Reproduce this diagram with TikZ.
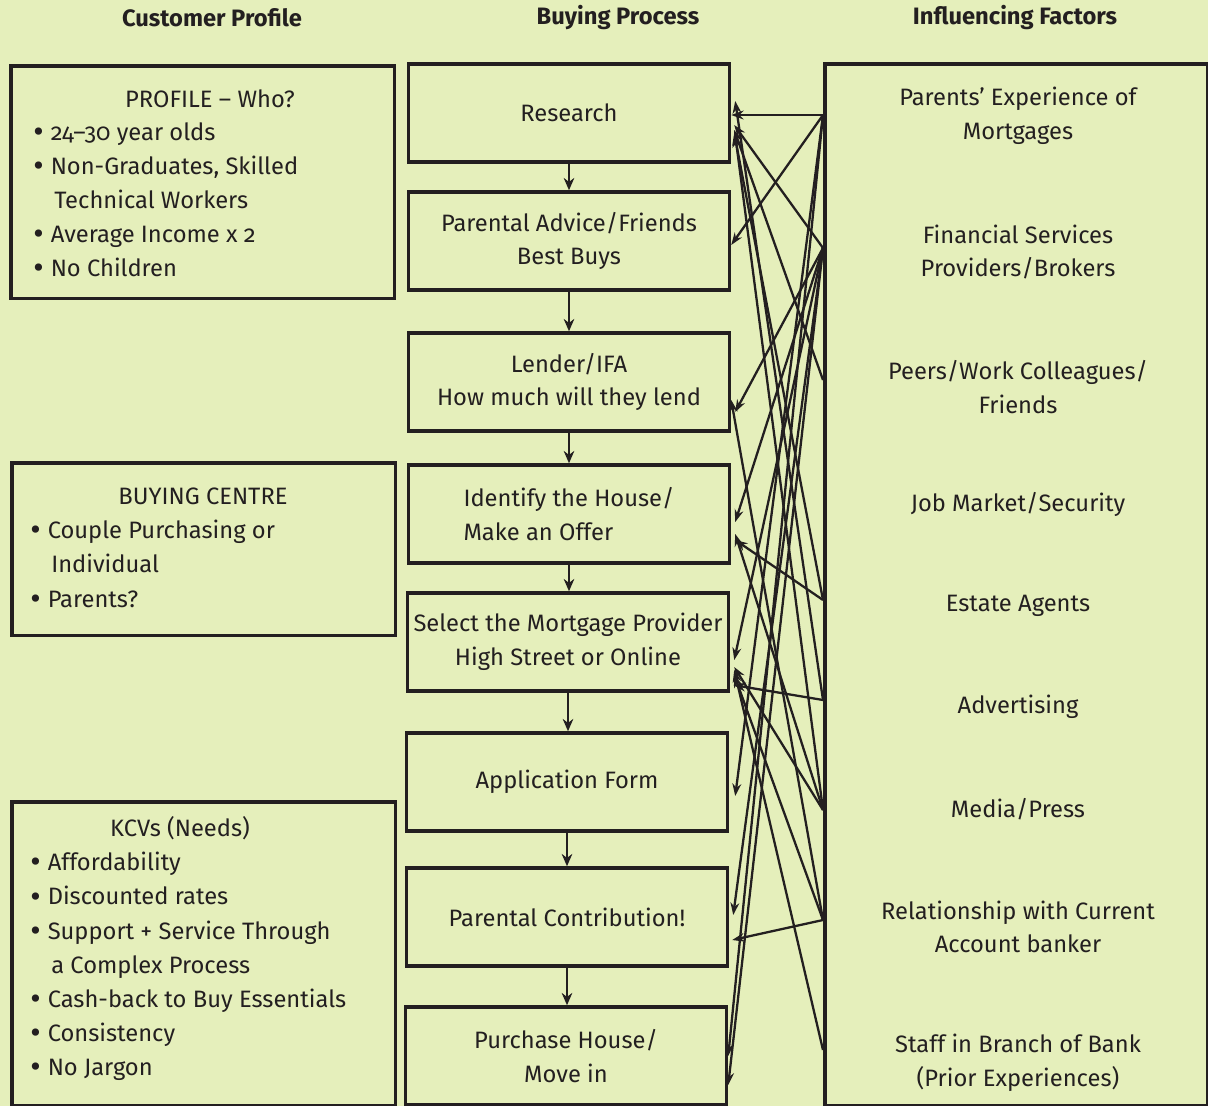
\documentclass[tikz,border=0pt]{standalone}
\usepackage{fontspec}
\setmainfont{Fira Sans}[Numbers=OldStyle]
\usetikzlibrary{arrows.meta, positioning, calc}
\definecolor{paleolive}{RGB}{229,239,187}
\definecolor{inkblack}{RGB}{35,31,32}
\newcommand{\itm}{\raisebox{-1.2pt}{\scalebox{1.35}{\textbullet}}\hspace{4pt}}
\newcommand{\cont}{\hphantom{\scalebox{1.35}{\textbullet}}\hspace{6pt}}

\begin{document}
\begin{tikzpicture}[x=0.02cm, y=-0.02cm,
    every node/.style={font=\fontsize{13.5}{19.1}\selectfont, text=inkblack},
    procbox/.style={draw=inkblack, line width=2pt, minimum width=6.42cm,
                    minimum height=1.96cm, align=center, inner sep=2pt},
    sidebox/.style={draw=inkblack, line width=2pt, minimum width=7.68cm,
                    anchor=north west, inner sep=0pt},
    coltitle/.style={font=\fontsize{13.5}{16}\selectfont\bfseries},
    bullets/.style={anchor=north west, align=left, inner sep=0pt,
                    font=\fontsize{13.5}{19.4}\selectfont},
    factor/.style={align=center},
    flow/.style={-{Stealth[length=7pt,width=6pt]}, line width=1.7pt, draw=inkblack},
    infl/.style={-{Stealth[length=7pt,width=5pt]}, line width=1.3pt, draw=inkblack}
]
    \fill[paleolive] (0,0) rectangle (1208,1106);
    \useasboundingbox (0,0) rectangle (1208,1106);

    % column titles
    \node[coltitle] (titleprofile) at (212,18) {Customer Profile};
    \node[coltitle] (titleprocess) at (618,18) {Buying Process};
    \node[coltitle] (titlefactors) at (1015,18) {Influencing Factors};

    % customer profile column
    \node[sidebox, minimum height=4.66cm] (profile) at (9,64) {};
    \node (profilehead) at (210,99) {PROFILE -- Who?};
    \node[bullets] (profilelist) at (33,122) {\itm 24--30 year olds\\
        \itm Non-Graduates, Skilled\\ \cont Technical Workers\\
        \itm Average Income x 2\\ \itm No Children};

    \node[sidebox, minimum height=3.46cm] (centre) at (10,461) {};
    \node (centrehead) at (203,496) {BUYING CENTRE};
    \node[bullets] (centrelist) at (30,520) {\itm Couple Purchasing or\\
        \cont Individual\\ \itm Parents?};

    \node[sidebox, minimum height=6.08cm] (kcvs) at (10,800) {};
    \node (kcvshead) at (180,828) {KCVs (Needs)};
    \node[bullets] (kcvslist) at (30,852) {\itm Affordability\\
        \itm Discounted rates\\ \itm Support + Service Through\\
        \cont a Complex Process\\ \itm Cash-back to Buy Essentials\\
        \itm Consistency\\ \itm No Jargon};

    % buying process column
    \node[procbox] (research) at (569,113) {Research};
    \node[procbox] (advice) at (569,241) {Parental Advice/Friends\\Best Buys};
    \node[procbox] (lender) at (569,382) {Lender/IFA\\How much will they lend};
    \node[procbox, align=left] (identify) at (569,514) {Identify the House/\\Make an Offer};
    \node[procbox] (select) at (568,642) {Select the Mortgage Provider\\High Street or Online};
    \node[procbox] (application) at (567,782) {Application Form};
    \node[procbox] (contribution) at (567,917) {Parental Contribution!};
    \node[procbox] (purchase) at (566,1056) {Purchase House/\\Move in};

    \foreach \a/\b in {research/advice, advice/lender, lender/identify,
                       identify/select, select/application,
                       application/contribution, contribution/purchase}
        \draw[flow] (\a.south) -- (\a.south |- \b.north);

    % influencing factors column
    \node[draw=inkblack, line width=2pt, minimum width=7.66cm,
          minimum height=20.84cm, anchor=north west] (factors) at (823,62) {};
    \node[factor] (parents) at (1018,116) {Parents’ Experience of\\Mortgages};
    \node[factor] (brokers) at (1018,252) {Financial Services\\Providers/Brokers};
    \node[factor] (peers) at (1018,387) {Peers/Work Colleagues/\\Friends};
    \node[factor] (jobs) at (1018,504) {Job Market/Security};
    \node[factor] (agents) at (1018,606) {Estate Agents};
    \node[factor] (adverts) at (1018,707) {Advertising};
    \node[factor] (media) at (1018,809) {Media/Press};
    \node[factor] (banker) at (1018,927) {Relationship with Current\\Account banker};
    \node[factor] (staff) at (1018,1063) {Staff in Branch of Bank\\(Prior Experiences)};

    \coordinate (f1) at (823,115);
    \coordinate (f2) at (823,248);
    \coordinate (f3) at (823,380);
    \coordinate (f5) at (823,600);
    \coordinate (f6) at (823,700);
    \coordinate (f7) at (823,810);
    \coordinate (f8) at (823,920);
    \coordinate (f9) at (823,1050);

    % influence arrows
    \draw[infl] (f1) -- ($(research.east)+(0,2)$);
    \draw[infl] (f1) -- ($(advice.east)+(0,4)$);
    \draw[infl] (f1) -- ($(application.east)+(6,14)$);
    \draw[infl] (f1) -- ($(purchase.east)+(0,0)$);
    \draw[infl] (f2) -- ($(research.east)+(3,12)$);
    \draw[infl] (f2) -- ($(lender.east)+(4,30)$);
    \draw[infl] (f2) -- ($(identify.east)+(4,8)$);
    \draw[infl] (f2) -- ($(select.east)+(4,18)$);
    \draw[infl] (f2) -- ($(contribution.east)+(4,-2)$);
    \draw[infl] (f2) -- ($(purchase.east)+(0,29)$);
    \draw[infl] (f3) -- ($(research.east)+(3,17)$);
    \draw[infl] (f5) -- ($(research.east)+(3,20)$);
    \draw[infl] (f5) -- ($(identify.east)+(4,26)$);
    \draw[infl] (f6) -- ($(research.east)+(4,-12)$);
    \draw[infl] (f6) -- ($(select.east)+(3,43)$);
    \draw[infl] (f7) -- ($(research.east)+(4,22)$);
    \draw[infl] (f7) -- ($(identify.east)+(4,20)$);
    \draw[infl] (f7) -- ($(select.east)+(4,25)$);
    \draw[infl] (f8) -- ($(lender.east)+(0,18)$);
    \draw[infl] (f8) -- ($(select.east)+(4,33)$);
    \draw[infl] (f8) -- ($(contribution.east)+(3,23)$);
    \draw[infl] (f9) -- ($(select.east)+(4,28)$);
\end{tikzpicture}
\end{document}
